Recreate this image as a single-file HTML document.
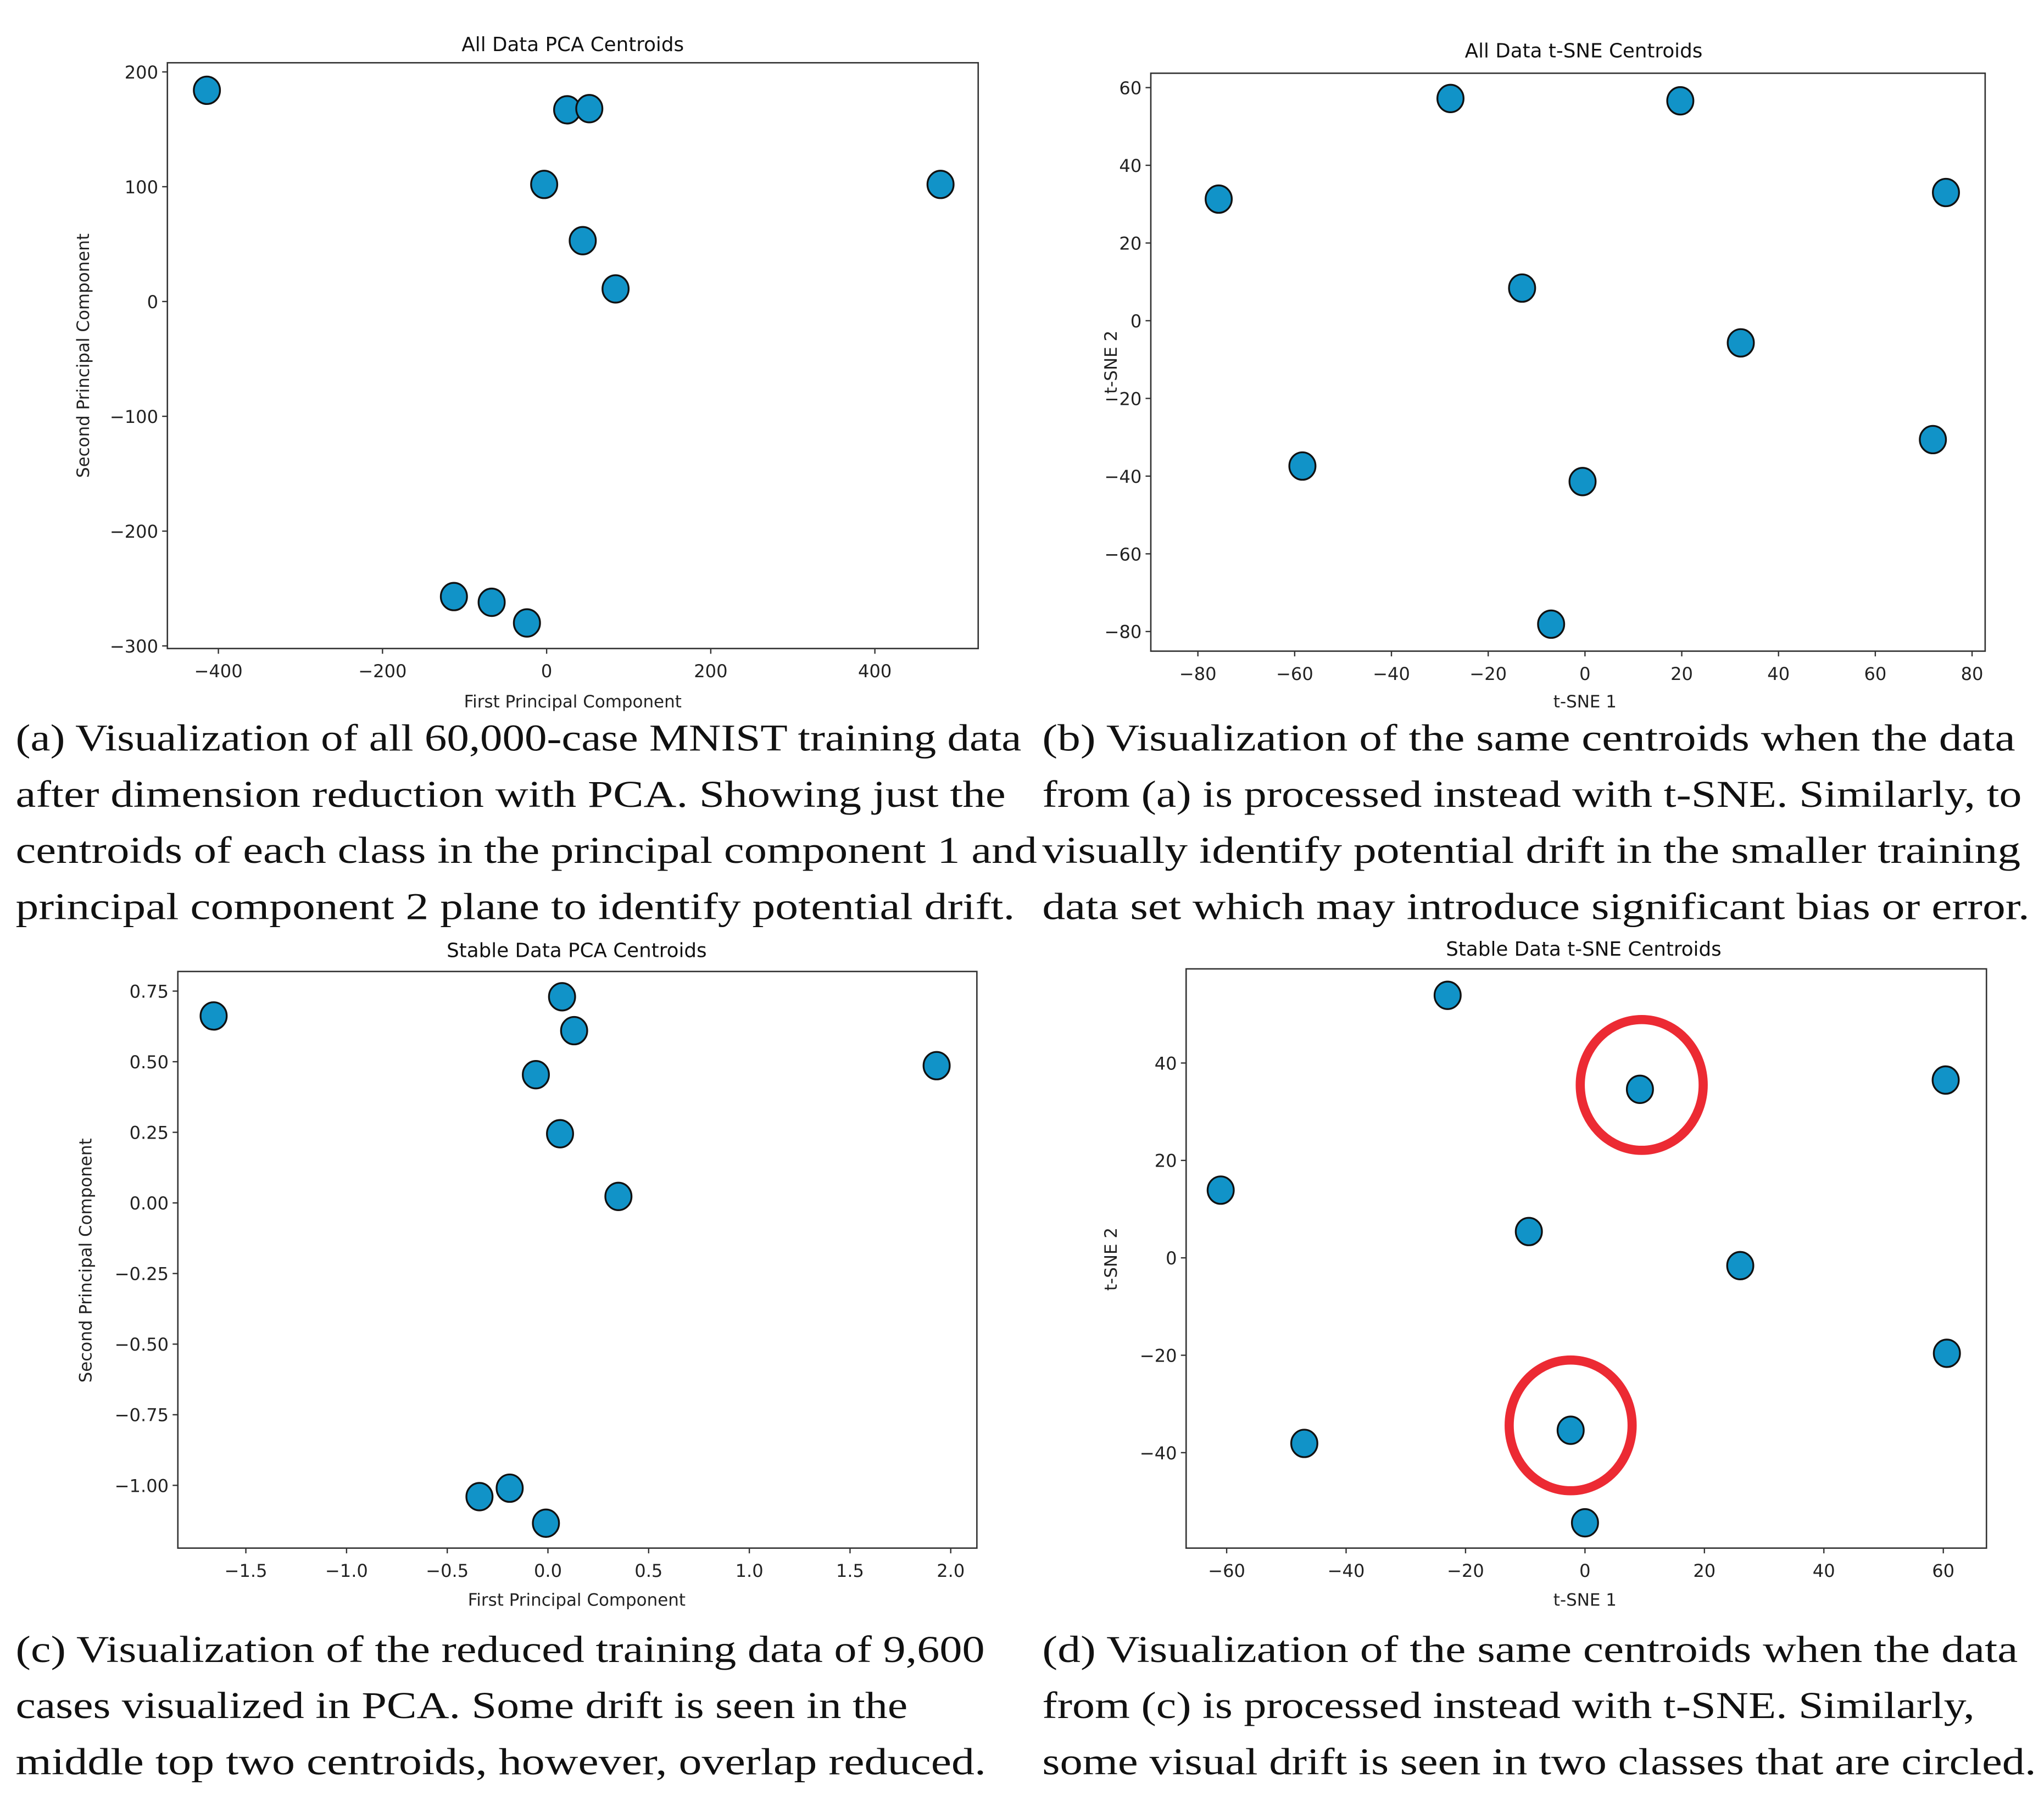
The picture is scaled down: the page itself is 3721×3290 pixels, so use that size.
<!DOCTYPE html>
<html><head><meta charset="utf-8"><style>
html,body{margin:0;padding:0;background:#fff;}
svg{display:block;}
.tick{font-family:"DejaVu Sans","Liberation Sans",sans-serif;font-size:13.5px;fill:#222;}
.lab{font-family:"DejaVu Sans","Liberation Sans",sans-serif;font-size:13px;fill:#222;}
.ttl{font-family:"DejaVu Sans","Liberation Sans",sans-serif;font-size:15px;fill:#111;}
.cap{font-family:"Liberation Serif",serif;font-size:29px;fill:#111;}
</style></head><body>
<svg id="fig" width="3721" height="3290" viewBox="0 0 1563 1382" preserveAspectRatio="none" xmlns="http://www.w3.org/2000/svg">
<rect x="0" y="0" width="1563" height="1382" fill="#fff"/>
<g id="captions">
<text class="cap" x="12" y="574" textLength="769" lengthAdjust="spacingAndGlyphs">(a) Visualization of all 60,000-case MNIST training data</text>
<text class="cap" x="12" y="617" textLength="757" lengthAdjust="spacingAndGlyphs">after dimension reduction with PCA. Showing just the</text>
<text class="cap" x="12" y="660" textLength="781" lengthAdjust="spacingAndGlyphs">centroids of each class in the principal component 1 and</text>
<text class="cap" x="12" y="703" textLength="764" lengthAdjust="spacingAndGlyphs">principal component 2 plane to identify potential drift.</text>
<text class="cap" x="797" y="574" textLength="744" lengthAdjust="spacingAndGlyphs">(b) Visualization of the same centroids when the data</text>
<text class="cap" x="797" y="617" textLength="749" lengthAdjust="spacingAndGlyphs">from (a) is processed instead with t-SNE. Similarly, to</text>
<text class="cap" x="797" y="660" textLength="748" lengthAdjust="spacingAndGlyphs">visually identify potential drift in the smaller training</text>
<text class="cap" x="797" y="703" textLength="755" lengthAdjust="spacingAndGlyphs">data set which may introduce significant bias or error.</text>
<text class="cap" x="12" y="1271" textLength="741" lengthAdjust="spacingAndGlyphs">(c) Visualization of the reduced training data of 9,600</text>
<text class="cap" x="12" y="1314" textLength="682" lengthAdjust="spacingAndGlyphs">cases visualized in PCA. Some drift is seen in the</text>
<text class="cap" x="12" y="1357" textLength="742" lengthAdjust="spacingAndGlyphs">middle top two centroids, however, overlap reduced.</text>
<text class="cap" x="797" y="1271" textLength="746" lengthAdjust="spacingAndGlyphs">(d) Visualization of the same centroids when the data</text>
<text class="cap" x="797" y="1314" textLength="713" lengthAdjust="spacingAndGlyphs">from (c) is processed instead with t-SNE. Similarly,</text>
<text class="cap" x="797" y="1357" textLength="760" lengthAdjust="spacingAndGlyphs">some visual drift is seen in two classes that are circled.</text>
</g>
</svg>
<script>
// Panel A data
const aX = [-414, 25, 52, -3, 44, 84, 480, -113, -67, -24];
const aY = [184, 167, 168, 102, 53, 11, 102, -257, -262, -280];
const aXTicks = [-400, -200, 0, 200, 400];
const aYTicks = [200, 100, 0, -100, -200, -300];
// Panel B data
const bX = [-75.7, -27.8, 19.7, 74.6, -13, 32.2, -58.4, -0.5, 71.9, -7];
const bY = [31.3, 57.2, 56.6, 33, 8.4, -5.7, -37.4, -41.4, -30.6, -78.1];
const bXTicks = [-80, -60, -40, -20, 0, 20, 40, 60, 80];
const bYTicks = [60, 40, 20, 0, -20, -40, -60, -80];
// Panel C data
const cX = [-1.66, 0.07, 0.13, -0.06, 0.06, 0.35, 1.93, -0.34, -0.19, -0.01];
const cY = [0.662, 0.73, 0.61, 0.454, 0.245, 0.023, 0.486, -1.04, -1.01, -1.134];
const cXTicks = [-1.5, -1.0, -0.5, 0.0, 0.5, 1.0, 1.5, 2.0];
const cXTickLabels = ["−1.5", "−1.0", "−0.5", "0.0", "0.5", "1.0", "1.5", "2.0"];
const cYTicks = [0.75, 0.5, 0.25, 0, -0.25, -0.5, -0.75, -1.0];
const cYTickLabels = ["0.75", "0.50", "0.25", "0.00", "−0.25", "−0.50", "−0.75", "−1.00"];
// Panel D data
const dX = [-61, -23, 9.2, 60.4, -9.4, 26, 60.6, -47, -2.4, 0];
const dY = [13.9, 53.9, 34.6, 36.5, 5.4, -1.6, -19.6, -38.1, -35.4, -54.4];
const dXTicks = [-60, -40, -20, 0, 20, 40, 60];
const dYTicks = [40, 20, 0, -20, -40];
const dCircleX = [9.5, -2.4];
const dCircleY = [35.5, -34.4];

const NS = "http://www.w3.org/2000/svg";
const svg = document.getElementById('fig');
function mk(tag, attrs, parent) {
  const e = document.createElementNS(NS, tag);
  for (const k in attrs) e.setAttribute(k, attrs[k]);
  parent.appendChild(e);
  return e;
}
function fmt(v) { return (v < 0 ? "−" : "") + Math.abs(v); }

function panel(cfg) {
  const g = mk('g', {}, svg);
  
  
  const sx = v => cfg.px0 + (v - cfg.vx0) * (cfg.px1 - cfg.px0) / (cfg.vx1 - cfg.vx0);
  const sy = v => cfg.py0 + (v - cfg.vy0) * (cfg.py1 - cfg.py0) / (cfg.vy1 - cfg.vy0);
  const b = cfg.box;
  const pts = mk('g', {}, g);
  
  
  cfg.xs.forEach((xv, i) => {
    const c = mk('ellipse', {cx: sx(xv), cy: sy(cfg.ys[i]), rx: 10, ry: 10.5, fill: '#1193c8', stroke: '#111', 'stroke-width': 1.4}, pts);
    
    
  });
  if (cfg.circX) {
    cfg.circX.forEach((xv, i) => {
      const c = mk('ellipse', {cx: sx(xv), cy: sy(cfg.circY[i]), rx: 47, ry: 50, fill: 'none', stroke: '#ec2a33', 'stroke-width': 7}, g);
      
      
    });
  }
  const frame = mk('rect', {x: b[0], y: b[1], width: b[2] - b[0], height: b[3] - b[1], fill: 'none', stroke: '#333', 'stroke-width': 1.1}, g);
  
  
  cfg.xt.forEach((t, i) => {
    const x = sx(t);
    mk('line', {x1: x, x2: x, y1: b[3], y2: b[3] + 4, stroke: '#333', 'stroke-width': 1}, g);
    const tx = mk('text', {x: x, y: b[3] + 22, 'text-anchor': 'middle', class: 'tick'}, g);
    
    
    tx.textContent = cfg.xl ? cfg.xl[i] : fmt(t);
  });
  cfg.yt.forEach((t, i) => {
    const y = sy(t);
    mk('line', {x1: b[0] - 4, x2: b[0], y1: y, y2: y, stroke: '#333', 'stroke-width': 1}, g);
    const tx = mk('text', {x: b[0] - 7, y: y + 5, 'text-anchor': 'end', class: 'tick'}, g);
    
    
    tx.textContent = cfg.yl ? cfg.yl[i] : fmt(t);
  });
  const ti = mk('text', {x: cfg.title[1], y: cfg.title[2], 'text-anchor': 'middle', class: 'ttl'}, g);
  
  
  ti.textContent = cfg.title[0];
  const xlab = mk('text', {x: cfg.xlab[1], y: cfg.xlab[2], 'text-anchor': 'middle', class: 'lab'}, g);
  
  
  xlab.textContent = cfg.xlab[0];
  const ylab = mk('text', {x: 0, y: 0, 'text-anchor': 'middle', class: 'lab', transform: 'translate(' + cfg.ylab[1] + ',' + cfg.ylab[2] + ') rotate(-90)'}, g);
  
  
  ylab.textContent = cfg.ylab[0];
}

panel({name: 'chart-all-pca', box: [128, 48, 748, 496], xs: aX, ys: aY, xt: aXTicks, yt: aYTicks,
  px0: 167, vx0: -400, px1: 669, vx1: 400, py0: 55, vy0: 200, py1: 494, vy1: -300,
  title: ['All Data PCA Centroids', 438, 39], xlab: ['First Principal Component', 438, 541], ylab: ['Second Principal Component', 68, 272]});
panel({name: 'chart-all-tsne', box: [880, 56, 1518, 498], xs: bX, ys: bY, xt: bXTicks, yt: bYTicks,
  px0: 916, vx0: -80, px1: 1508, vx1: 80, py0: 67, vy0: 60, py1: 483, vy1: -80,
  title: ['All Data t-SNE Centroids', 1211, 44], xlab: ['t-SNE 1', 1212, 541], ylab: ['t-SNE 2', 854, 277]});
panel({name: 'chart-stable-pca', box: [136, 743, 747, 1184], xs: cX, ys: cY, xt: cXTicks, yt: cYTicks, xl: cXTickLabels, yl: cYTickLabels,
  px0: 188, vx0: -1.5, px1: 727, vx1: 2.0, py0: 758, vy0: 0.75, py1: 1136, vy1: -1.0,
  title: ['Stable Data PCA Centroids', 441, 732], xlab: ['First Principal Component', 441, 1228], ylab: ['Second Principal Component', 70, 964]});
panel({name: 'chart-stable-tsne', box: [907, 741, 1519, 1184], xs: dX, ys: dY, xt: dXTicks, yt: dYTicks, circX: dCircleX, circY: dCircleY,
  px0: 938, vx0: -60, px1: 1486, vx1: 60, py0: 813, vy0: 40, py1: 1111, vy1: -40,
  title: ['Stable Data t-SNE Centroids', 1211, 731], xlab: ['t-SNE 1', 1212, 1228], ylab: ['t-SNE 2', 854, 963]});
</script>
</body></html>
